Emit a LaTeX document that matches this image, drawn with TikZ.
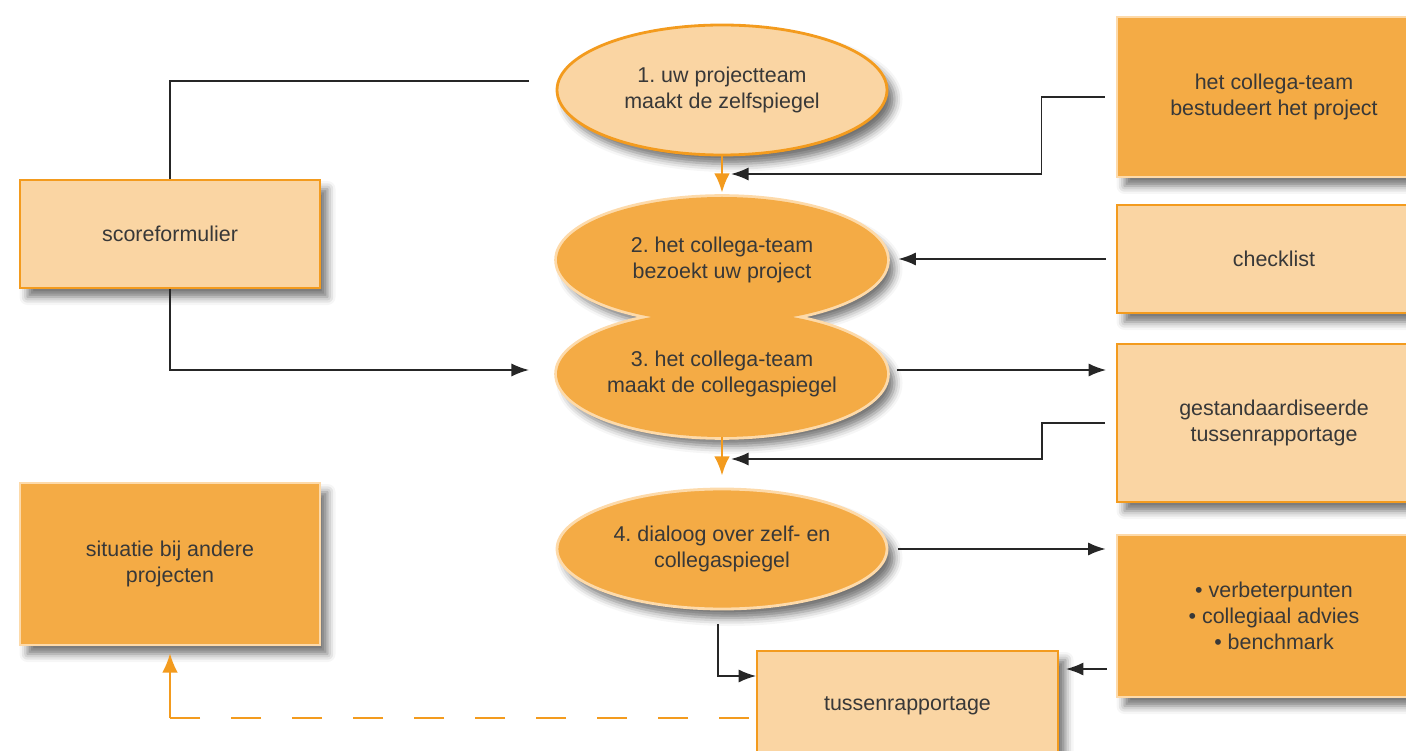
\documentclass[tikz,border=0pt]{standalone}
\usepackage{fontspec}
\setmainfont{Liberation Sans}
\frenchspacing
\usetikzlibrary{arrows.meta,shapes.geometric,shadows.blur,calc}
\definecolor{lightfill}{HTML}{FAD5A3}
\definecolor{darkfill}{HTML}{F4AB45}
\definecolor{orangeline}{HTML}{F39B1E}
\definecolor{paleline}{HTML}{FDDAAA}
\definecolor{inktext}{HTML}{383838}

\begin{document}
\begin{tikzpicture}[
      >={Latex[length=10pt,width=7.5pt]},
      every node/.style={font=\fontsize{12.2}{14.8}\selectfont,text=inktext,align=center},
      softshadow/.style={
        blur shadow={shadow xshift=0.15cm,shadow yshift=-0.18cm,shadow blur radius=0.16cm,shadow opacity=55}
      },
      lightbox/.style={rectangle,draw=orangeline,fill=lightfill,line width=1pt,softshadow},
      darkbox/.style={rectangle,draw=paleline,fill=darkfill,line width=1.6pt,softshadow},
      stepone/.style={
        ellipse,draw=orangeline,fill=lightfill,line width=1.6pt,inner sep=0pt,
        minimum width=6.6cm,minimum height=2.6cm,softshadow
      },
      stepdark/.style={ellipse,inner sep=0pt,minimum width=6.6cm,minimum height=2.52cm},
      stepfill/.style={stepdark,draw=paleline,fill=darkfill,line width=1.6pt,softshadow},
      conn/.style={draw=black!85,line width=1pt},
      orangearrow/.style={draw=orangeline,line width=1.5pt,-{Latex[length=11pt,width=9pt]}},
    ]
    \useasboundingbox (0,0) rectangle (28.12,-15.02);

    \coordinate (p2) at (14.44,-5.20);
    \coordinate (p3) at (14.44,-7.48);
    % step 2 and 3 grow into one shape
    \foreach \p in {p2,p3}
      \path[draw=paleline,line width=3.2pt,fill=darkfill,softshadow] (\p) ellipse [x radius=3.3cm,y radius=1.26cm];
    \foreach \p in {p2,p3}
      \fill[darkfill] (\p) ellipse [x radius=3.3cm,y radius=1.26cm];

    % steps
    \node[stepone] (s1) at (14.44,-1.80) {1. uw projectteam\\maakt de zelfspiegel};
    \node[stepdark] (s2) at (p2) {2. het collega-team\\bezoekt uw project};
    \node[stepdark] (s3) at (p3) {3. het collega-team\\maakt de collegaspiegel};
    \node[stepfill,minimum height=2.4cm] (s4) at (14.44,-10.98) {4. dialoog over zelf- en\\collegaspiegel};

    % boxes
    \node[lightbox,minimum width=6cm,minimum height=2.16cm] (sf) at (3.40,-4.68) {scoreformulier};
    \node[darkbox,minimum width=6cm,minimum height=3.24cm] (sa) at (3.40,-11.28) {situatie bij andere\\projecten};
    \node[darkbox,minimum width=6.28cm,minimum height=3.2cm] (cb) at (25.48,-1.94) {het collega-team\\bestudeert het project};
    \node[lightbox,minimum width=6.28cm,minimum height=2.16cm] (cl) at (25.48,-5.18) {checklist};
    \node[lightbox,minimum width=6.28cm,minimum height=3.16cm] (gs) at (25.48,-8.46) {gestandaardiseerde\\tussenrapportage};
    \node[darkbox,minimum width=6.28cm,minimum height=3.24cm] (vb) at (25.48,-12.32) {\textbullet{} verbeterpunten\\\textbullet{} collegiaal advies\\\textbullet{} benchmark};
    \node[lightbox,minimum width=6.02cm,minimum height=2.2cm] (tr) at (18.15,-14.12) {tussenrapportage};

    \coordinate (c1) at (10.58,-1.62);
    \coordinate (c3) at (10.58,-7.40);
    \coordinate (m12) at (14.62,-3.48);
    \coordinate (m34) at (14.62,-9.18);
    \coordinate (dk) at (3.40,-14.36);

    % connectors
    \draw[conn] (c1) -| (sf.north);
    \draw[conn,->] (sf.south) |- (c3);
    \draw[orangearrow,shorten >=0.08cm] (s1) -- (s2);
    \draw[orangearrow,shorten >=0.24cm] (s3) -- (s4);
    \draw[conn,->] ([xshift=-0.22cm]cb.west) -- ++(-1.26,0) |- (m12);
    \draw[conn,->,shorten >=0.22cm] ([xshift=-0.2cm]cl.west) -- (cl.west -| s2.east);
    \draw[conn,->,shorten >=0.2cm] ($(s3.east)+(0.2,0.08)$) -- ($(s3.east -| gs.west)+(0,0.08)$);
    \draw[conn,->] ([xshift=-0.22cm]gs.west) -- ++(-1.26,0) |- (m34);
    \draw[conn,->,shorten >=0.2cm] ([xshift=0.2cm]s4.east) -- (s4.east -| vb.west);
    \draw[conn,->] ($(s4.south)+(-0.08,-0.28)$) |- ([yshift=0.6cm]tr.west);
    \draw[conn,->] ($(vb.west)+(-0.18,-1.06)$) -- ($(vb.west -| tr.east)+(0.14,-1.06)$);
    \draw[orangeline,line width=1pt,dash pattern=on 0.6cm off 0.62cm] ($(tr.west)+(-0.14,-0.24)$) -- (dk);
    \draw[orangearrow,line width=1pt,shorten >=0.14cm] (dk) -- (sa.south);
  \end{tikzpicture}
\end{document}
